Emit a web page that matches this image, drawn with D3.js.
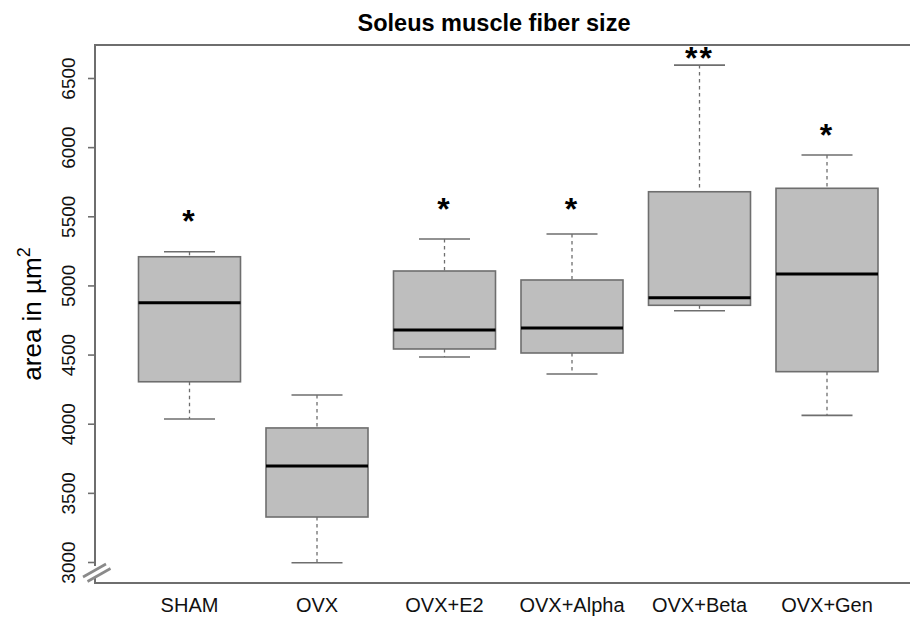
<!DOCTYPE html>
<html>
<head>
<meta charset="utf-8">
<script src="https://cdn.jsdelivr.net/npm/d3@7"></script>
<style>
  html, body { margin: 0; padding: 0; background: #fff; }
  svg { display: block; font-family: "Liberation Sans", Arial, Helvetica, sans-serif; }
</style>
</head>
<body>
<svg id="chart" width="910" height="617"></svg>
<script>
// Groups and their five-number summaries (µm²)
const categories = ["SHAM", "OVX", "OVX+E2", "OVX+Alpha", "OVX+Beta", "OVX+Gen"];
const whiskerLow  = [4038, 2998, 4486, 4363, 4821, 4064];
const q1          = [4307, 3329, 4544, 4515, 4860, 4380];
const median      = [4879, 3698, 4681, 4696, 4915, 5086];
const q3          = [5211, 3973, 5108, 5043, 5681, 5706];
const whiskerHigh = [5247, 4211, 5339, 5375, 6597, 5947];
// Significance markers and the height at which they are written
const sigLabels   = ["*", "", "*", "*", "**", "*"];
const sigHeights  = [5500, 0, 5585, 5585, 6680, 6120];
const yTicks      = [3000, 3500, 4000, 4500, 5000, 5500, 6000, 6500];

const svg = d3.select("#chart");
const frame = { left: 95, top: 45, bottom: 583, right: 925 };

const x = d3.scalePoint().domain(categories).range([189.5, 827]);
const boxW = x.step() * 0.8;
const y = d3.scaleLinear().domain([3000, 6500]).range([562.5, 78.5]);

const data = categories.map((c, i) => ({
  cat: c, lo: whiskerLow[i], q1: q1[i], med: median[i], q3: q3[i], hi: whiskerHigh[i],
  sig: sigLabels[i], sigY: sigHeights[i]
}));

const grey = "#6e6e6e";

// Boxes
const g = svg.append("g");
const box = g.selectAll("g.box").data(data).join("g").attr("class", "box");

// dashed whiskers
box.append("line")
  .attr("x1", d => x(d.cat)).attr("x2", d => x(d.cat))
  .attr("y1", d => y(d.hi)).attr("y2", d => y(d.q3))
  .attr("stroke", grey).attr("stroke-width", 1.3).attr("stroke-dasharray", "3.5,3.5");
box.append("line")
  .attr("x1", d => x(d.cat)).attr("x2", d => x(d.cat))
  .attr("y1", d => y(d.q1)).attr("y2", d => y(d.lo))
  .attr("stroke", grey).attr("stroke-width", 1.3).attr("stroke-dasharray", "3.5,3.5");
// whisker caps
["hi", "lo"].forEach(k => {
  box.append("line")
    .attr("x1", d => x(d.cat) - boxW / 4).attr("x2", d => x(d.cat) + boxW / 4)
    .attr("y1", d => y(d[k])).attr("y2", d => y(d[k]))
    .attr("stroke", grey).attr("stroke-width", 1.6);
});
// box body
box.append("rect")
  .attr("x", d => x(d.cat) - boxW / 2).attr("width", boxW)
  .attr("y", d => y(d.q3)).attr("height", d => y(d.q1) - y(d.q3))
  .attr("fill", "#bebebe").attr("stroke", grey).attr("stroke-width", 1.6);
// median
box.append("line")
  .attr("x1", d => x(d.cat) - boxW / 2).attr("x2", d => x(d.cat) + boxW / 2)
  .attr("y1", d => y(d.med)).attr("y2", d => y(d.med))
  .attr("stroke", "#000").attr("stroke-width", 3);
// significance stars
box.filter(d => d.sig).append("text")
  .attr("x", d => x(d.cat)).attr("y", d => y(d.sigY) + 15)
  .attr("text-anchor", "middle").attr("font-size", 32).attr("font-weight", "bold")
  .attr("letter-spacing", 2)
  .text(d => d.sig);

// Plot frame (right side runs past the page edge)
svg.append("path")
  .attr("d", `M${frame.left},566 V${frame.top} H${frame.right} M${frame.right},${frame.bottom} H${frame.left} V577`)
  .attr("fill", "none").attr("stroke", grey).attr("stroke-width", 2);

// Y axis ticks and labels
const yAxis = svg.append("g");
yAxis.selectAll("line").data(yTicks).join("line")
  .attr("x1", frame.left - 7).attr("x2", frame.left)
  .attr("y1", d => y(d)).attr("y2", d => y(d))
  .attr("stroke", grey).attr("stroke-width", 1.6);
yAxis.selectAll("text").data(yTicks).join("text")
  .attr("transform", d => `translate(75,${y(d)}) rotate(-90)`)
  .attr("text-anchor", "middle").attr("font-size", 19).attr("fill", "#111")
  .text(d => d);

// Axis break marks
svg.append("g").selectAll("line").data([0, 4.5]).join("line")
  .attr("x1", d => 83 + d).attr("y1", d => 577 + d)
  .attr("x2", d => 106 + d).attr("y2", d => 564 + d)
  .attr("stroke", "#8a8a8a").attr("stroke-width", 2.6);

// X category labels
svg.append("g").selectAll("text").data(categories).join("text")
  .attr("x", d => x(d)).attr("y", 612)
  .attr("text-anchor", "middle").attr("font-size", 20).attr("fill", "#111")
  .text(d => d);

// Y title
const yt = svg.append("text")
  .attr("transform", `translate(41,${(frame.top + frame.bottom) / 2}) rotate(-90)`)
  .attr("text-anchor", "middle").attr("font-size", 26).attr("fill", "#000");
yt.append("tspan").text("area in µm");
yt.append("tspan").attr("font-size", 18).attr("dy", -11).text("2");

// Title
svg.append("text")
  .attr("x", 494).attr("y", 31)
  .attr("text-anchor", "middle").attr("font-size", 23.5).attr("font-weight", "bold")
  .text("Soleus muscle fiber size");
</script>
</body>
</html>
